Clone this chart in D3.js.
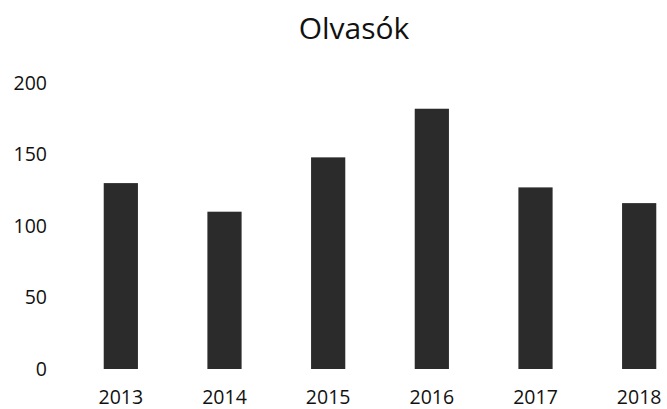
<!DOCTYPE html>
<html><head><meta charset="utf-8">
<script src="https://cdn.jsdelivr.net/npm/d3@7"></script>
<style>body{margin:0;background:#fff}svg{display:block}text{font-family:"Open Sans",sans-serif;fill:#111}</style>
</head><body><svg id="c" width="667" height="409"></svg>
<script>
const categories = ["2013","2014","2015","2016","2017","2018"];
const values = [130, 110, 148, 182, 127, 116];
const yTicks = [0, 50, 100, 150, 200];
const title = "Olvasók";

const svg = d3.select("#c");
const x = d3.scaleBand().domain(categories).range([69, 691]).paddingInner(0.67).paddingOuter(0.335);
const y = d3.scaleLinear().domain([0, 200]).range([369, 83]);

svg.append("text").attr("x", 354).attr("y", 39).attr("text-anchor", "middle")
  .style("font-size", "30px").text(title);

svg.selectAll("rect.bar").data(values).join("rect").attr("class","bar")
  .attr("x", (d,i) => x(categories[i]))
  .attr("width", x.bandwidth())
  .attr("y", d => y(d))
  .attr("height", d => y(0) - y(d))
  .attr("fill", "#2b2b2b");

const ya = d3.axisLeft(y).tickValues(yTicks).tickSize(0).tickPadding(0);
const gy = svg.append("g").attr("transform","translate(47,0)").call(ya);
gy.select(".domain").remove();
gy.selectAll("text").style("font-size","19.5px").style("font-family","'Open Sans', sans-serif").attr("fill","#111");

const xa = d3.axisBottom(x).tickSize(0).tickPadding(0);
const gx = svg.append("g").attr("transform","translate(0,390)").call(xa);
gx.select(".domain").remove();
gx.selectAll("text").style("font-size","19.5px").style("font-family","'Open Sans', sans-serif").attr("fill","#111");
</script></body></html>
